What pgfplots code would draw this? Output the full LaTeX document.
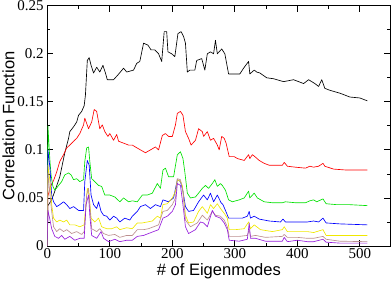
\documentclass[border=0pt]{standalone}
\usepackage{fontspec}
\setmainfont{Liberation Serif}
\setsansfont{Liberation Sans}
\usepackage{pgfplots}
\pgfplotsset{compat=1.18}
\definecolor{gbrown}{RGB}{188,143,143}
\definecolor{gviolet}{RGB}{150,30,220}
\definecolor{ggreen}{RGB}{0,225,0}
\definecolor{gyellow}{RGB}{240,232,0}
\begin{document}
\begin{tikzpicture}
\begin{axis}[
  scale only axis, width=343.2pt, height=240.3pt,
  xmin=0, xmax=549, ymin=0, ymax=0.25,
  xtick={0,100,...,500}, ytick={0,0.05,0.1,0.15,0.2,0.25},
  minor x tick num=1, minor y tick num=1,
  tick align=inside, xtick pos=both, ytick pos=both,
  major tick length=6pt, minor tick length=3pt,
  axis line style={line width=0.9pt}, every tick/.style={black, line width=0.8pt},
  /pgf/number format/assume math mode=true,
  scaled y ticks=false,
  yticklabel style={/pgf/number format/fixed, /pgf/number format/precision=2, inner sep=3.5pt},
  xticklabel style={inner sep=2.5pt},
  tick label style={font=\fontsize{15}{18}\selectfont},
  label style={font=\sffamily\fontsize{16.5}{20}\selectfont, inner sep=0pt},
  xlabel={\# of Eigenmodes},
  ylabel={Correlation Function},
  xlabel style={at={(axis description cs:0.5,-0.1207)}, anchor=base},
  ylabel style={at={(axis description cs:-0.113,0.5)}, anchor=center},
  every axis plot/.style={line width=0.65pt, line join=round},
]
\addplot[black] coordinates {(0,0)(1,0.042)(7,0.048)(12,0.057)(20,0.072)(28,0.097)(34,0.112)(36,0.119)(42,0.124)(47,0.129)(50,0.136)(55,0.140)(59,0.146)(61,0.157)(64,0.193)(67,0.196)(70,0.188)(74,0.180)(79,0.186)(84,0.181)(89,0.188)(93,0.180)(96,0.173)(106,0.173)(113,0.178)(122,0.185)(127,0.181)(138,0.183)(143,0.190)(148,0.192)(154,0.211)(161,0.209)(166,0.204)(172,0.204)(178,0.200)(183,0.192)(187,0.223)(191,0.223)(193,0.202)(199,0.200)(204,0.197)(209,0.221)(214,0.223)(218,0.218)(221,0.211)(224,0.181)(228,0.183)(236,0.183)(239,0.193)(247,0.195)(252,0.183)(256,0.200)(261,0.202)(266,0.200)(269,0.214)(272,0.200)(279,0.205)(284,0.200)(290,0.179)(298,0.179)(308,0.179)(314,0.185)(322,0.192)(324,0.179)(331,0.183)(335,0.181)(340,0.180)(351,0.175)(362,0.174)(378,0.171)(394,0.173)(410,0.169)(418,0.173)(428,0.169)(434,0.166)(439,0.173)(444,0.164)(452,0.162)(468,0.159)(484,0.155)(500,0.154)(512,0.151)};
\addplot[red] coordinates {(0,0)(1,0.052)(5,0.062)(10,0.068)(15,0.077)(20,0.088)(26,0.095)(31,0.102)(36,0.105)(42,0.109)(47,0.112)(52,0.117)(58,0.126)(60,0.133)(66,0.122)(71,0.129)(75,0.142)(79,0.140)(82,0.129)(84,0.122)(88,0.126)(92,0.119)(97,0.114)(100,0.117)(106,0.110)(111,0.116)(114,0.109)(122,0.107)(130,0.105)(136,0.105)(141,0.103)(149,0.100)(157,0.097)(165,0.100)(173,0.103)(178,0.100)(184,0.115)(189,0.117)(194,0.114)(200,0.114)(205,0.126)(208,0.138)(213,0.140)(217,0.136)(221,0.119)(226,0.112)(230,0.105)(237,0.110)(242,0.122)(248,0.119)(250,0.114)(256,0.119)(261,0.110)(266,0.112)(272,0.105)(275,0.100)(279,0.114)(283,0.112)(286,0.107)(291,0.093)(299,0.093)(304,0.091)(315,0.089)(322,0.095)(324,0.091)(328,0.095)(332,0.093)(339,0.089)(347,0.086)(355,0.084)(365,0.084)(376,0.084)(379,0.087)(384,0.083)(397,0.082)(413,0.081)(420,0.083)(426,0.082)(434,0.083)(441,0.086)(444,0.083)(458,0.080)(479,0.079)(495,0.079)(512,0.079)};
\addplot[ggreen] coordinates {(0,0)(1,0.125)(2.7,0.105)(4.3,0.088)(6,0.074)(9,0.062)(12,0.058)(18,0.063)(23,0.067)(28,0.074)(34,0.076)(38,0.074)(42,0.069)(47,0.070)(52,0.067)(58,0.069)(60,0.088)(63,0.102)(66,0.103)(68,0.088)(71,0.070)(76,0.067)(82,0.063)(87,0.062)(92,0.053)(100,0.053)(108,0.051)(116,0.046)(122,0.050)(130,0.046)(136,0.047)(144,0.046)(152,0.053)(160,0.053)(168,0.055)(176,0.065)(181,0.060)(185,0.079)(189,0.081)(194,0.072)(202,0.072)(208,0.095)(213,0.098)(217,0.091)(220,0.077)(224,0.055)(229,0.050)(237,0.051)(242,0.055)(248,0.060)(253,0.063)(258,0.060)(264,0.065)(268,0.069)(272,0.062)(277,0.065)(280,0.063)(285,0.058)(290,0.048)(296,0.046)(307,0.048)(315,0.050)(322,0.057)(324,0.050)(331,0.055)(336,0.050)(347,0.046)(360,0.045)(376,0.045)(381,0.046)(397,0.045)(413,0.045)(420,0.047)(426,0.048)(431,0.046)(441,0.049)(446,0.044)(463,0.043)(484,0.043)(512,0.042)};
\addplot[blue] coordinates {(0,0)(1,0.100)(4.3,0.081)(7,0.053)(10,0.046)(15,0.041)(20,0.043)(26,0.046)(31,0.043)(36,0.039)(42,0.041)(50,0.037)(58,0.037)(60,0.067)(64,0.089)(67,0.084)(70,0.053)(74,0.043)(79,0.039)(82,0.046)(86,0.036)(90,0.032)(95,0.031)(100,0.027)(106,0.031)(111,0.029)(116,0.025)(124,0.029)(132,0.027)(136,0.031)(144,0.036)(149,0.041)(157,0.043)(165,0.039)(173,0.043)(181,0.041)(185,0.048)(194,0.046)(202,0.050)(208,0.069)(213,0.067)(217,0.057)(221,0.041)(226,0.036)(234,0.037)(242,0.046)(250,0.053)(256,0.048)(261,0.055)(266,0.046)(272,0.053)(278,0.045)(281,0.043)(285,0.037)(290,0.029)(299,0.029)(312,0.029)(320,0.031)(323,0.036)(325,0.029)(331,0.031)(339,0.028)(355,0.026)(373,0.025)(377,0.028)(381,0.025)(403,0.025)(416,0.025)(426,0.026)(434,0.025)(441,0.029)(446,0.024)(468,0.023)(512,0.022)};
\addplot[gyellow] coordinates {(0,0)(1,0.084)(4.3,0.067)(7,0.043)(10,0.029)(15,0.025)(20,0.027)(26,0.025)(31,0.027)(36,0.022)(44,0.022)(52,0.020)(59,0.022)(62,0.046)(64,0.060)(67,0.053)(70,0.029)(76,0.025)(82,0.029)(87,0.020)(95,0.018)(103,0.018)(111,0.020)(116,0.017)(127,0.019)(136,0.018)(144,0.024)(152,0.024)(160,0.025)(168,0.026)(176,0.031)(181,0.029)(185,0.043)(192,0.044)(200,0.050)(205,0.057)(208,0.069)(213,0.067)(216,0.063)(221,0.032)(226,0.024)(234,0.025)(242,0.036)(248,0.041)(256,0.034)(261,0.043)(266,0.039)(272,0.044)(277,0.039)(283,0.034)(288,0.029)(291,0.017)(301,0.017)(315,0.018)(322,0.025)(325,0.018)(331,0.022)(341,0.017)(360,0.015)(376,0.017)(379,0.020)(384,0.015)(403,0.015)(416,0.015)(426,0.014)(441,0.017)(446,0.011)(468,0.011)(512,0.011)};
\addplot[gbrown] coordinates {(0,0)(1,0.076)(4,0.055)(7,0.036)(10,0.020)(15,0.015)(20,0.018)(26,0.015)(31,0.017)(39,0.013)(47,0.015)(55,0.012)(59,0.015)(63,0.053)(66,0.060)(68,0.043)(71,0.018)(79,0.015)(84,0.018)(90,0.013)(98,0.011)(108,0.012)(116,0.009)(127,0.011)(136,0.011)(144,0.017)(154,0.017)(162,0.018)(170,0.020)(178,0.022)(185,0.036)(192,0.037)(200,0.043)(205,0.050)(208,0.070)(213,0.069)(217,0.057)(221,0.027)(229,0.020)(240,0.024)(248,0.032)(256,0.027)(264,0.036)(269,0.032)(277,0.031)(283,0.027)(288,0.020)(291,0.010)(307,0.010)(320,0.011)(323,0.017)(325,0.010)(333,0.011)(349,0.009)(376,0.010)(379,0.012)(384,0.009)(400,0.009)(416,0.008)(426,0.008)(441,0.010)(446,0.007)(468,0.005)(512,0.0045)};
\addplot[gviolet] coordinates {(0,0)(1,0.037)(4,0.028)(7,0.018)(12,0.010)(18,0.008)(23,0.011)(28,0.007)(36,0.010)(44,0.006)(52,0.008)(59,0.008)(62,0.043)(66,0.053)(68,0.032)(71,0.011)(79,0.008)(86,0.015)(90,0.008)(98,0.0045)(108,0.007)(116,0.0045)(127,0.006)(136,0.006)(144,0.010)(154,0.011)(162,0.013)(170,0.015)(178,0.017)(185,0.029)(192,0.031)(200,0.036)(205,0.043)(208,0.065)(213,0.063)(217,0.043)(221,0.020)(226,0.013)(237,0.017)(245,0.025)(250,0.024)(256,0.020)(264,0.037)(269,0.031)(277,0.029)(283,0.024)(288,0.017)(291,0.006)(307,0.005)(320,0.007)(323,0.024)(325,0.008)(333,0.008)(349,0.005)(376,0.005)(379,0.009)(384,0.0045)(400,0.006)(416,0.0045)(426,0.0045)(441,0.007)(446,0.004)(468,0.003)(512,0.003)};
\end{axis}
\pgfresetboundingbox
\path (current axis.south west) ++(-47.3pt,-36pt) rectangle ++(392pt,282pt);
\end{tikzpicture}
\end{document}
